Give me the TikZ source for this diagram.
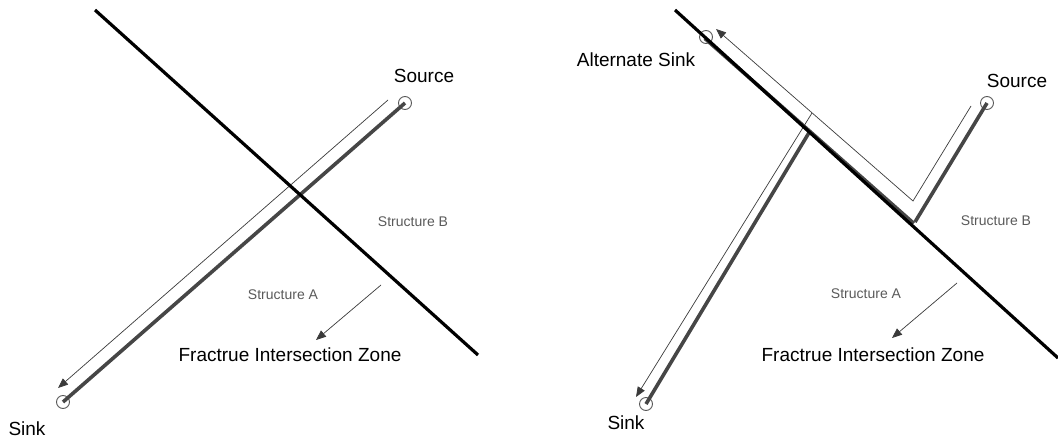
\documentclass[tikz,border=0pt]{standalone}
\usepackage{fontspec}
\setmainfont{Liberation Sans}
\usetikzlibrary{arrows.meta}
\definecolor{flowgray}{HTML}{464646}
\definecolor{thingray}{HTML}{3A3A3A}
\definecolor{labgray}{HTML}{5A5A5A}
\begin{document}
\begin{tikzpicture}[x=1pt,y=-1pt,
  fracture/.style={line width=3.2pt,black},
  flow/.style={line width=3.6pt,flowgray},
  thinflow/.style={line width=0.7pt,thingray},
  tip/.style={-{Triangle[length=10pt,width=8pt]}},
  well/.style={circle,draw=gray!70!black,line width=0.9pt,minimum size=13pt,inner sep=0pt},
  biglab/.style={font=\fontsize{19}{19}\selectfont,inner sep=0pt},
  smalllab/.style={font=\fontsize{14}{14}\selectfont,text=labgray,inner sep=0pt}]
\useasboundingbox (0,0) rectangle (1058,439);
% ---------- left panel ----------
\coordinate (fA1) at (95,10);
\coordinate (fA2) at (478,355);
\node[well] (src1) at (405,103) {};
\node[well] (snk1) at (63,402) {};
\coordinate (t1s) at (388,100);
\coordinate (t1e) at (58,388);
\draw[thinflow,tip] (t1s) -- (t1e);
\draw[flow] (src1.center) -- (snk1.center);
\draw[fracture] (fA1) -- (fA2);
\node[biglab] (lsrc1) at (424,76) {Source};
\node[biglab] (lsnk1) at (27,429) {Sink};
\node[smalllab] (lsb1) at (413,222) {Structure B};
\node[smalllab] (lsa1) at (283,295) {Structure A};
\node[biglab] (fiz1) at (290,355) {Fractrue Intersection Zone};
\coordinate (a1s) at (381,285);
\coordinate (a1e) at (316,340);
\draw[thinflow,tip] (a1s) -- (a1e);
% ---------- right panel ----------
\coordinate (fB1) at (675,10);
\coordinate (fB2) at (1058,358);
\node[well] (alt) at (706,37) {};
\node[well] (src2) at (987,103) {};
\node[well] (snk2) at (646,404) {};
\coordinate (jn) at (915,222);
\coordinate (stop) at (810,131);
% thin paths
\coordinate (t2a) at (971,106);
\coordinate (t2b) at (913,201);
\coordinate (t2c) at (716,29);
\coordinate (t2br) at (812,113);
\coordinate (t2d) at (636,397);
\draw[thinflow,tip] (t2a) -- (t2b) -- (t2c);
\draw[thinflow,tip] (t2br) -- (t2d);
% thick flow
\draw[flow] ([shift={(-1.2,1.4)}]alt.center) -- ([shift={(-1.2,1.4)}]jn);
\draw[flow] (src2.center) -- (jn);
\draw[flow] (stop) -- (snk2.center);
\draw[fracture] (fB1) -- (fB2);
\node[biglab] (lalt) at (636,60) {Alternate Sink};
\node[biglab] (lsrc2) at (1017,81) {Source};
\node[biglab] (lsnk2) at (626,423) {Sink};
\node[smalllab] (lsb2) at (996,221) {Structure B};
\node[smalllab] (lsa2) at (866,294) {Structure A};
\node[biglab] (fiz2) at (873,355) {Fractrue Intersection Zone};
\coordinate (a2s) at (957,283);
\coordinate (a2e) at (892,338);
\draw[thinflow,tip] (a2s) -- (a2e);
\end{tikzpicture}
\end{document}
